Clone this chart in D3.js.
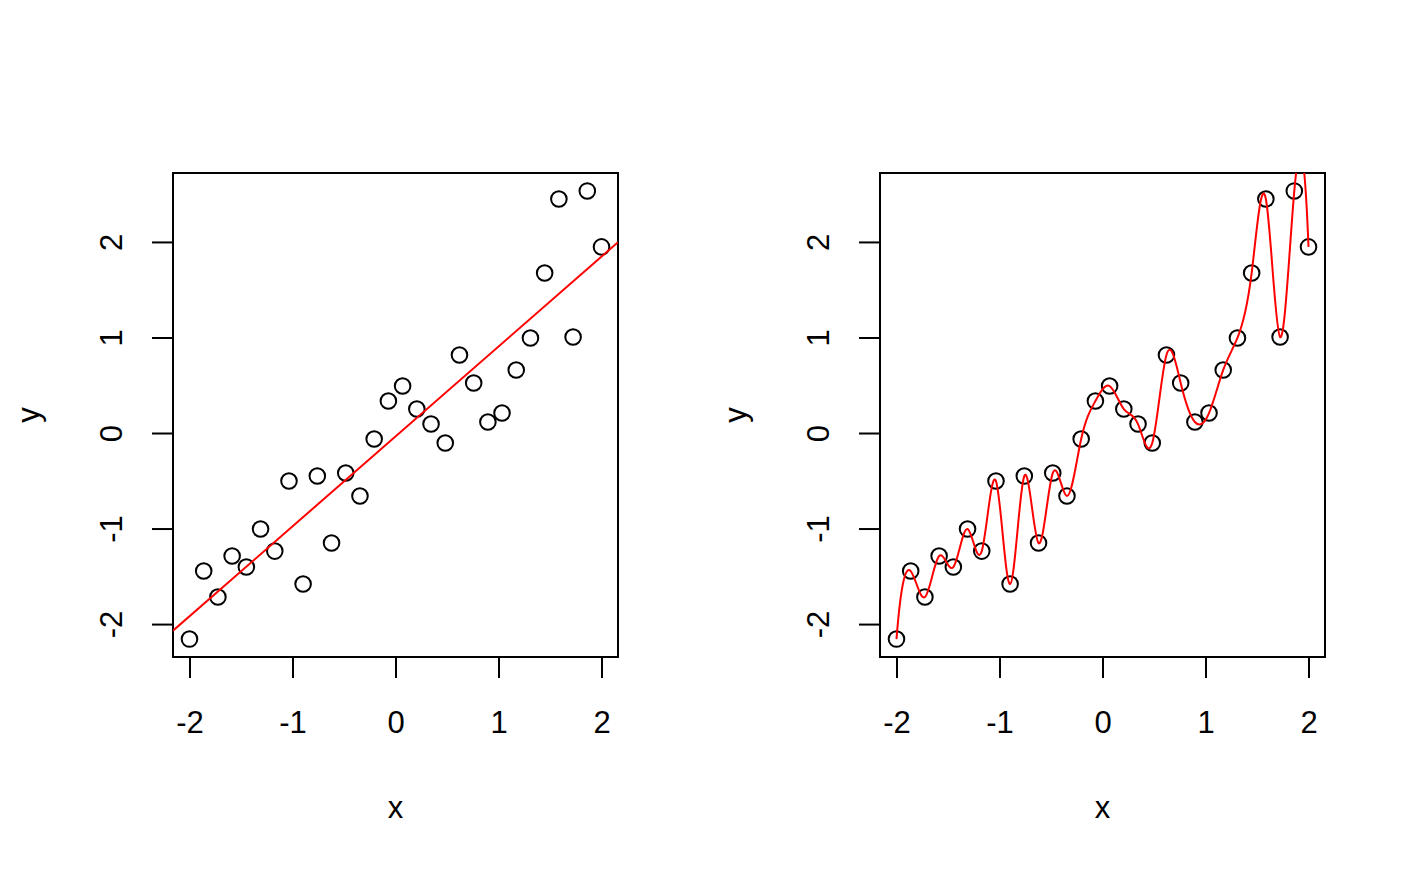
<!DOCTYPE html>
<html>
<head>
<meta charset="utf-8">
<script src="https://cdn.jsdelivr.net/npm/d3@7"></script>
<style>
html, body { margin: 0; padding: 0; background: #fff; }
svg { display: block; }
text { font-family: "Liberation Sans", Arial, Helvetica, sans-serif; fill: #000; }
</style>
</head>
<body>
<script>
// ---- data ----
const xValues = [-2.000, -1.862, -1.724, -1.586, -1.448, -1.310, -1.172, -1.034, -0.897, -0.759,
                 -0.621, -0.483, -0.345, -0.207, -0.069, 0.069, 0.207, 0.345, 0.483, 0.621,
                 0.759, 0.897, 1.034, 1.172, 1.310, 1.448, 1.586, 1.724, 1.862, 2.000];
const yValues = [-2.157, -1.445, -1.717, -1.288, -1.403, -1.005, -1.236, -0.503, -1.581, -0.450,
                 -1.152, -0.419, -0.660, -0.063, 0.335, 0.492, 0.251, 0.094, -0.105, 0.817,
                 0.524, 0.115, 0.209, 0.660, 0.995, 1.675, 2.450, 1.005, 2.534, 1.948];
const xTicks = [-2, -1, 0, 1, 2];
const yTicks = [-2, -1, 0, 1, 2];
const xLabel = "x";
const yLabel = "y";

(function () {
const W = 1414, H = 873;
const svg = d3.select("body").append("svg").attr("width", W).attr("height", H);

const pts = xValues.map((x, i) => ({x, y: yValues[i]}));

function ext(arr) {
  const [a, b] = d3.extent(arr);
  const d = (b - a) * 0.04;
  return [a - d, b + d];
}

// least squares fit
const mx = d3.mean(xValues), my = d3.mean(yValues);
const slope = d3.sum(pts, p => (p.x - mx) * (p.y - my)) / d3.sum(pts, p => (p.x - mx) ** 2);
const intercept = my - slope * mx;

// FMM cubic spline slopes (as in R's spline(), method "fmm")
function fmmSlopes(xa, ya) {
  const n = xa.length;
  const x = [0, ...xa], y = [0, ...ya];
  const b = new Array(n + 1).fill(0), c = new Array(n + 1).fill(0), d = new Array(n + 1).fill(0);
  const nm1 = n - 1;
  d[1] = x[2] - x[1];
  c[2] = (y[2] - y[1]) / d[1];
  for (let i = 2; i < n; i++) {
    d[i] = x[i + 1] - x[i];
    b[i] = 2 * (d[i - 1] + d[i]);
    c[i + 1] = (y[i + 1] - y[i]) / d[i];
    c[i] = c[i + 1] - c[i];
  }
  b[1] = -d[1];
  b[n] = -d[nm1];
  c[1] = c[n] = 0;
  if (n > 3) {
    c[1] = c[3] / (x[4] - x[2]) - c[2] / (x[3] - x[1]);
    c[n] = c[nm1] / (x[n] - x[n - 2]) - c[n - 2] / (x[nm1] - x[n - 3]);
    c[1] = c[1] * d[1] * d[1] / (x[4] - x[1]);
    c[n] = -c[n] * d[nm1] * d[nm1] / (x[n] - x[n - 3]);
  }
  for (let i = 2; i <= n; i++) {
    const t = d[i - 1] / b[i - 1];
    b[i] = b[i] - t * d[i - 1];
    c[i] = c[i] - t * c[i - 1];
  }
  c[n] = c[n] / b[n];
  for (let i = nm1; i >= 1; i--) c[i] = (c[i] - d[i] * c[i + 1]) / b[i];
  b[n] = (y[n] - y[n - 1]) / d[n - 1] + d[n - 1] * (c[n - 1] + 2 * c[n]);
  for (let i = 1; i <= nm1; i++) {
    b[i] = (y[i + 1] - y[i]) / d[i] - d[i] * (c[i + 1] + 2 * c[i]);
  }
  return b.slice(1);
}

const panels = [
  {left: 173, right: 618, type: "lm", id: "c1"},
  {left: 880, right: 1325, type: "spline", id: "c2"}
];
const plotTop = 173, plotBottom = 657;
const fs = 31;
const fmt = d => String(d);

panels.forEach(p => {
  const xs = d3.scaleLinear().domain(ext(xValues)).range([p.left, p.right]);
  const ys = d3.scaleLinear().domain(ext(yValues)).range([plotBottom, plotTop]);
  const g = svg.append("g");

  g.append("clipPath").attr("id", p.id).append("rect")
    .attr("x", p.left).attr("y", plotTop).attr("width", p.right - p.left).attr("height", plotBottom - plotTop);

  // axes
  const xa = g.append("g").attr("transform", `translate(0,${plotBottom})`)
    .call(d3.axisBottom(xs).tickValues(xTicks).tickSize(21).tickPadding(0).tickFormat(fmt));
  xa.select(".domain").attr("d", `M${xs(xTicks[0])},0H${xs(xTicks[xTicks.length-1])}`)
    .attr("stroke", "#000").attr("stroke-width", 2);
  xa.selectAll(".tick line").attr("stroke", "#000").attr("stroke-width", 2);
  xa.selectAll(".tick text").attr("font-size", fs).attr("font-family", "Liberation Sans, Arial, sans-serif")
    .attr("y", 76).attr("dy", null).attr("fill", "#000");

  const ya = g.append("g").attr("transform", `translate(${p.left},0)`)
    .call(d3.axisLeft(ys).tickValues(yTicks).tickSize(21).tickPadding(0).tickFormat(fmt));
  ya.select(".domain").attr("d", `M0,${ys(yTicks[0])}V${ys(yTicks[yTicks.length-1])}`)
    .attr("stroke", "#000").attr("stroke-width", 2);
  ya.selectAll(".tick line").attr("stroke", "#000").attr("stroke-width", 2);
  ya.selectAll(".tick text").attr("font-size", fs).attr("font-family", "Liberation Sans, Arial, sans-serif")
    .attr("x", null).attr("dy", null).attr("text-anchor", "middle")
    .attr("transform", "translate(-51,0) rotate(-90)").attr("fill", "#000");

  // box
  g.append("rect").attr("x", p.left).attr("y", plotTop).attr("width", p.right - p.left).attr("height", plotBottom - plotTop)
    .attr("fill", "none").attr("stroke", "#000").attr("stroke-width", 2);

  // axis titles
  g.append("text").attr("x", (p.left + p.right) / 2).attr("y", 818).attr("text-anchor", "middle")
    .attr("font-size", fs).text(xLabel);
  g.append("text").attr("transform", `translate(${p.left - 134},${(plotTop + plotBottom) / 2}) rotate(-90)`)
    .attr("text-anchor", "middle").attr("font-size", fs).text(yLabel);

  // points
  g.append("g").selectAll("circle").data(pts).join("circle")
    .attr("cx", d => xs(d.x)).attr("cy", d => ys(d.y)).attr("r", 7.8)
    .attr("fill", "none").attr("stroke", "#000").attr("stroke-width", 2);

  const cg = g.append("g").attr("clip-path", `url(#${p.id})`);
  if (p.type === "lm") {
    const [x0, x1] = xs.domain();
    cg.append("line")
      .attr("x1", xs(x0)).attr("y1", ys(intercept + slope * x0))
      .attr("x2", xs(x1)).attr("y2", ys(intercept + slope * x1))
      .attr("stroke", "#ff0000").attr("stroke-width", 2);
  } else {
    const m = fmmSlopes(xValues, yValues);
    const path = d3.path();
    path.moveTo(xs(xValues[0]), ys(yValues[0]));
    for (let i = 0; i < xValues.length - 1; i++) {
      const h = xValues[i + 1] - xValues[i];
      path.bezierCurveTo(
        xs(xValues[i] + h / 3), ys(yValues[i] + m[i] * h / 3),
        xs(xValues[i + 1] - h / 3), ys(yValues[i + 1] - m[i + 1] * h / 3),
        xs(xValues[i + 1]), ys(yValues[i + 1]));
    }
    cg.append("path").attr("d", path.toString())
      .attr("fill", "none").attr("stroke", "#ff0000").attr("stroke-width", 2);
  }
});
})();
</script>
</body>
</html>
